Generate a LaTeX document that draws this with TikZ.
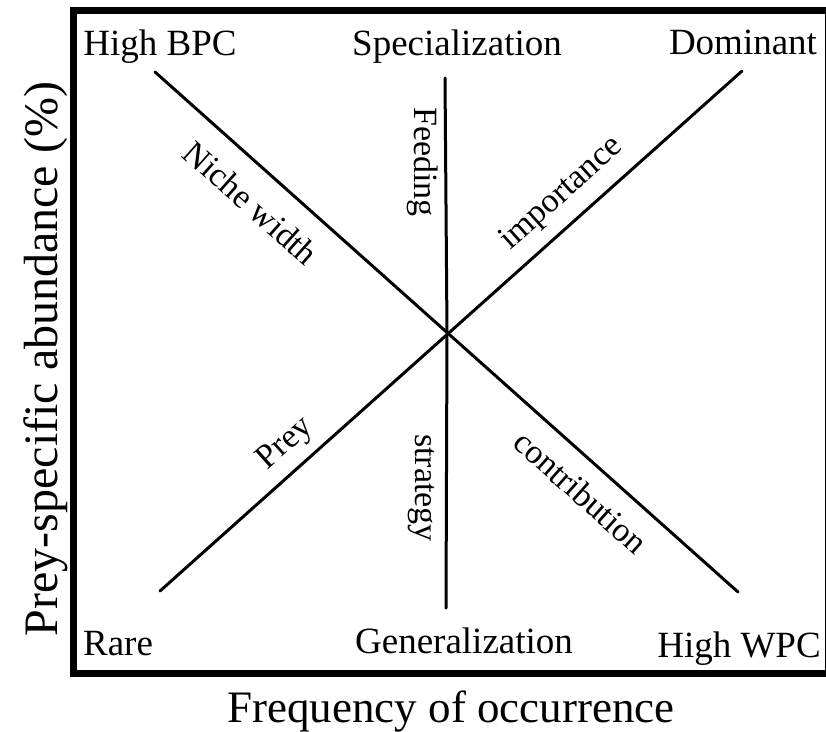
\documentclass[tikz,border=0pt]{standalone}
\usepackage{fontspec}
\setmainfont{Liberation Serif}
\begin{document}
\begin{tikzpicture}[x=1pt,y=-1pt,
  corner/.style={font=\fontsize{37}{40}\selectfont, inner sep=0pt, anchor=base},
  inline/.style={font=\fontsize{34}{38}\selectfont, inner sep=0pt, anchor=center},
  axislabel/.style={font=\fontsize{45}{50}\selectfont, inner sep=0pt, anchor=base},
  guide/.style={line width=3pt, line cap=round},
  framebox/.style={line width=7pt}]
\useasboundingbox (0,0) rectangle (826,731);
\fill[white] (0,0) rectangle (826,731);
% frame
\coordinate (fTL) at (73.5,10);
\coordinate (fBR) at (828,673.5);
\draw[framebox] (fTL) rectangle (fBR);
% line ends
\coordinate (d1a) at (155,72);
\coordinate (d1b) at (738,592);
\coordinate (d2a) at (160,591);
\coordinate (d2b) at (742,71);
\coordinate (vtop) at (445,78);
\coordinate (vmid) at (447,333);
\coordinate (vbot) at (446,608);
\draw[guide] (d1a) -- (d1b);
\draw[guide] (d2a) -- (d2b);
\draw[guide] (vtop) -- (vmid) -- (vbot);
% corner labels
\node[corner] (hbpc) at (160,55) {High BPC};
\node[corner] (spec) at (457,55) {Specialization};
\node[corner] (dom) at (743,54) {Dominant};
\node[corner] (rare) at (118,655) {Rare};
\node[corner] (gen) at (464,653) {Generalization};
\node[corner] (hwpc) at (739,657) {High WPC};
% inline labels
\node[inline, rotate=-41.7] (niche) at (251,203) {Niche width};
\node[inline, rotate=41.8] (imp) at (562,194) {importance};
\node[inline, rotate=41.8] (prey) at (286,444) {Prey};
\node[inline, rotate=-41.7] (contr) at (581,492) {contribution};
\node[inline, rotate=-90] (feed) at (423,162) {Feeding};
\node[inline, rotate=-90] (strat) at (421,488) {strategy};
% axis labels
\node[axislabel] (xlab) at (451,722) {Frequency of occurrence};
\node[axislabel, rotate=90, font=\fontsize{48}{52}\selectfont] (ylab) at (57,359) {Prey-specific abundance (\%)};
\end{tikzpicture}
\end{document}
